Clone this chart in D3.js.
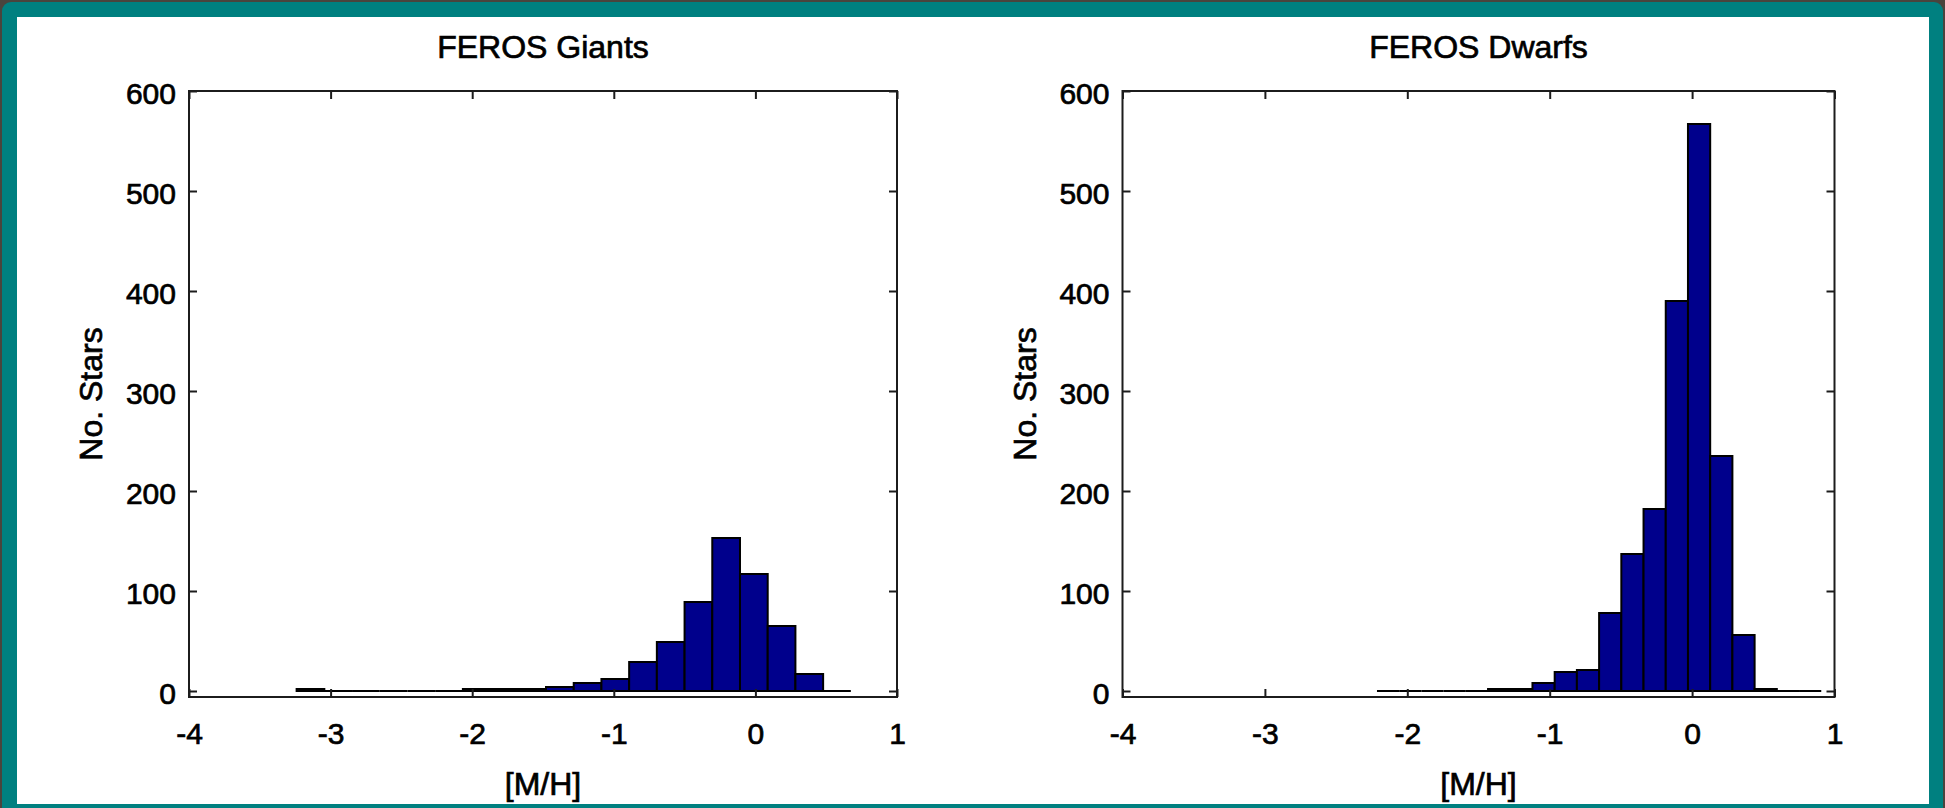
<!DOCTYPE html>
<html>
<head>
<meta charset="utf-8">
<script src="https://d3js.org/d3.v7.min.js"></script>
<style>
  html, body { margin: 0; padding: 0; background: #4a443d; overflow: hidden; }
  svg { display: block; }
  text { font-family: "Liberation Sans", Arial, Helvetica, sans-serif; fill: #000; stroke: #000; stroke-width: 0.7px; }
</style>
</head>
<body>
<svg id="chart" width="1945" height="808"></svg>
<script>
// Histogram of metallicity for the FEROS sample, 20 bins per panel.
const giantsEdges = [-3.24, 0.674];          // range covered by the 20 bins
const giantsCounts = [2, 0, 0, 0, 0, 0, 2, 2, 2, 4, 8, 12, 29, 49, 89, 153, 117, 65, 17, 0];

const dwarfsEdges = [-2.213, 0.907];
const dwarfsCounts = [0, 0, 0, 0, 0, 2, 2, 8, 19, 21, 78, 137, 182, 390, 567, 235, 56, 2, 0, 0];

const xTicks = [-4, -3, -2, -1, 0, 1];
const xTickLabels = ["-4", "-3", "-2", "-1", "0", "1"];
const yTicks = [0, 100, 200, 300, 400, 500, 600];
const yTickLabels = ["0", "100", "200", "300", "400", "500", "600"];

const panelTitles = ["FEROS Giants", "FEROS Dwarfs"];
const xLabel = "[M/H]";
const yLabel = "No. Stars";

const svg = d3.select("#chart");

// window frame
svg.append("rect").attr("x", 2).attr("y", 2).attr("width", 1941).attr("height", 820)
  .attr("rx", 9).attr("fill", "#008080");
svg.append("rect").attr("x", 17).attr("y", 17).attr("width", 1912).attr("height", 787)
  .attr("fill", "#ffffff");

const panels = [
  { title: panelTitles[0], edges: giantsEdges, counts: giantsCounts, left: 189, right: 897 },
  { title: panelTitles[1], edges: dwarfsEdges, counts: dwarfsCounts, left: 1122.5, right: 1834.5 }
];

const plotTop = 91, plotBottom = 697;
const axisColor = "#1c1c1c";
const tickFont = 30, labelFont = 32;

panels.forEach(p => {
  const x = d3.scaleLinear().domain([-4, 1]).range([p.left, p.right]);
  const y = d3.scaleLinear().domain([-6, 600]).range([plotBottom, plotTop]);
  const g = svg.append("g");

  // bins
  const n = p.counts.length;
  const w = (p.edges[1] - p.edges[0]) / n;
  const bins = p.counts.map((c, i) => ({ x0: p.edges[0] + i * w, x1: p.edges[0] + (i + 1) * w, c }));
  g.selectAll("path.bar").data(bins).join("path")
    .attr("class", "bar")
    .attr("d", d => `M${x(d.x0)},${y(0)}V${y(d.c)}H${x(d.x1)}V${y(0)}Z`)
    .attr("fill", "#00008c")
    .attr("stroke", "#000")
    .attr("stroke-width", 2)
    .attr("stroke-linejoin", "miter");

  // box
  g.append("rect").attr("x", p.left).attr("y", plotTop)
    .attr("width", p.right - p.left).attr("height", plotBottom - plotTop)
    .attr("fill", "none").attr("stroke", axisColor).attr("stroke-width", 2);

  const tickLen = 8;
  // bottom axis with inward ticks
  const xb = d3.axisBottom(x).tickValues(xTicks).tickSize(-tickLen).tickPadding(0)
    .tickFormat((d, i) => xTickLabels[i]);
  const gxb = g.append("g").attr("transform", `translate(0,${plotBottom})`).call(xb);
  gxb.select(".domain").remove();
  gxb.selectAll(".tick line").attr("stroke", axisColor).attr("stroke-width", 2);
  gxb.selectAll(".tick text").attr("y", 47).attr("dy", 0).attr("font-size", tickFont)
    .attr("font-family", "Liberation Sans, Arial, sans-serif").attr("fill", "#000");

  // top axis ticks
  const xt = d3.axisTop(x).tickValues(xTicks).tickSize(-tickLen).tickFormat("");
  const gxt = g.append("g").attr("transform", `translate(0,${plotTop})`).call(xt);
  gxt.select(".domain").remove();
  gxt.selectAll(".tick line").attr("stroke", axisColor).attr("stroke-width", 2);

  // left axis
  const yl = d3.axisLeft(y).tickValues(yTicks).tickSize(-tickLen).tickPadding(13)
    .tickFormat((d, i) => yTickLabels[i]);
  const gyl = g.append("g").attr("transform", `translate(${p.left},0)`).call(yl);
  gyl.select(".domain").remove();
  gyl.selectAll(".tick line").attr("stroke", axisColor).attr("stroke-width", 2);
  gyl.selectAll(".tick text").attr("x", -13).attr("dy", "0.42em").attr("font-size", tickFont)
    .attr("font-family", "Liberation Sans, Arial, sans-serif").attr("fill", "#000");

  // right axis ticks
  const yr = d3.axisRight(y).tickValues(yTicks).tickSize(-tickLen).tickFormat("");
  const gyr = g.append("g").attr("transform", `translate(${p.right},0)`).call(yr);
  gyr.select(".domain").remove();
  gyr.selectAll(".tick line").attr("stroke", axisColor).attr("stroke-width", 2);

  const cx = (p.left + p.right) / 2;
  g.append("text").attr("x", cx).attr("y", 58).attr("text-anchor", "middle")
    .attr("font-size", labelFont).text(p.title);
  g.append("text").attr("x", cx).attr("y", 795).attr("text-anchor", "middle")
    .attr("font-size", labelFont).text(xLabel);
  g.append("text").attr("transform", `translate(${p.left - 87},${(plotTop + plotBottom) / 2}) rotate(-90)`)
    .attr("text-anchor", "middle").attr("font-size", labelFont).text(yLabel);
});
</script>
</body>
</html>
